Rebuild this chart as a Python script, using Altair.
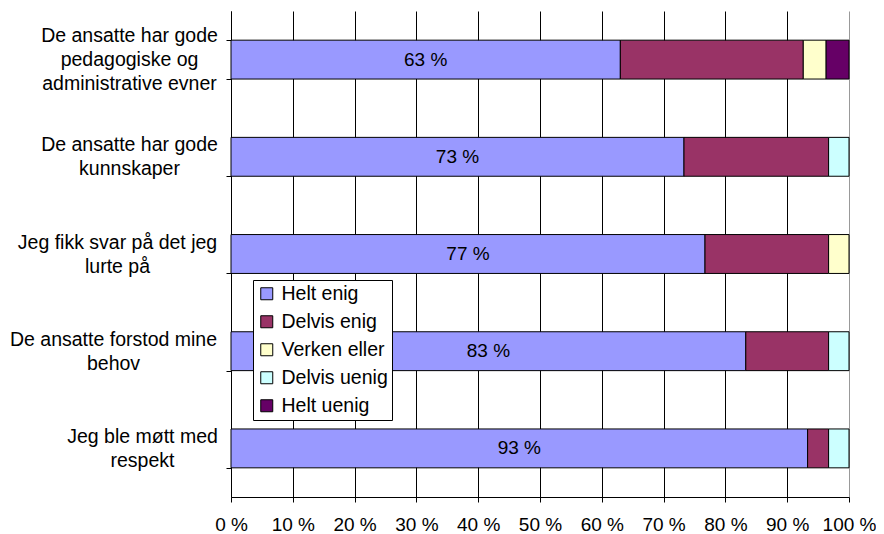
import json
import altair as alt
import pandas as pd

# ---- data ----
categories = [
    "De ansatte har gode\npedagogiske og\nadministrative evner",
    "De ansatte har gode\nkunnskaper",
    "Jeg fikk svar på det jeg\nlurte på",
    "De ansatte forstod mine\nbehov",
    "Jeg ble møtt med\nrespekt",
]
responses = ["Helt enig", "Delvis enig", "Verken eller", "Delvis uenig", "Helt uenig"]
helt_enig = [63.0, 73.3, 76.7, 83.3, 93.3]
delvis_enig = [29.6, 23.4, 20.0, 13.4, 3.4]
verken_eller = [3.7, 0.0, 3.3, 0.0, 0.0]
delvis_uenig = [0.0, 3.3, 0.0, 3.3, 3.3]
helt_uenig = [3.7, 0.0, 0.0, 0.0, 0.0]
x_ticks = list(range(0, 101, 10))

# ---- style ----
colors = ["#9999FF", "#993366", "#FFFFCC", "#CCFFFF", "#660066"]
FONT = "Liberation Sans"
FS = 19
YFS = 19.5
LINE_H = 24
label_pad = [97, 97, 109, 113, 84]  # centre the multi-line label blocks

series = [helt_enig, delvis_enig, verken_eller, delvis_uenig, helt_uenig]
rows = []
for ci, cat in enumerate(categories):
    for ri, (resp, vals) in enumerate(zip(responses, series)):
        rows.append({"category": cat, "response": resp, "order": ri, "pct": vals[ci]})
df = pd.DataFrame(rows)

pad_expr = "97"
for cat, p in reversed(list(zip(categories, label_pad))):
    pad_expr = f"datum.value === {json.dumps(cat, ensure_ascii=False)} ? {p} : ({pad_expr})"
offset_expr = f"-(length(split(datum.value, '\\n')) - 1) * {LINE_H / 2}"

y_enc = alt.Y(
    "category:N",
    sort=categories,
    title=None,
    scale=alt.Scale(paddingInner=0.6, paddingOuter=0.3),
    axis=alt.Axis(
        tickBand="extent",
        labelExpr="split(datum.label, '\\n')",
        labelAlign="center",
        labelBaseline="middle",
        labelLineHeight=LINE_H,
        labelPadding={"expr": pad_expr},
        labelOffset={"expr": offset_expr},
        labelFontSize=YFS,
        labelFont=FONT,
        labelColor="black",
        labelLimit=0,
        tickSize=5,
        tickColor="black",
        domainColor="black",
        grid=False,
    ),
)

x_axis = alt.Axis(
    values=x_ticks,
    labelExpr="datum.value + ' %'",
    grid=True,
    gridColor={"condition": {"test": "datum.value == 100", "value": "#999999"}, "value": "black"},
    gridWidth=1,
    domainColor="black",
    tickColor="black",
    tickSize=5,
    labelFontSize=FS,
    labelFont=FONT,
    labelColor="black",
    labelPadding=13,
    labelFlush=False,
    labelOverlap=False,
)

bars = (
    alt.Chart(df)
    .transform_filter("datum.pct > 0")
    .mark_bar(stroke="black", strokeWidth=1)
    .encode(
        x=alt.X("pct:Q", stack="zero", title=None,
                scale=alt.Scale(domain=[0, 100], nice=False), axis=x_axis),
        y=y_enc,
        color=alt.Color(
            "response:N",
            scale=alt.Scale(domain=responses, range=colors),
            legend=alt.Legend(
                title=None,
                orient="none",
                legendX=22,
                legendY=269,
                strokeColor="black",
                fillColor="white",
                padding=4,
                symbolType="square",
                symbolSize=144,
                symbolStrokeColor="black",
                symbolStrokeWidth=1,
                labelFontSize=YFS,
                labelFont=FONT,
                labelColor="black",
                labelOffset=5,
                rowPadding=7,
                labelLimit=0,
            ),
        ),
        order=alt.Order("order:Q", sort="ascending"),
    )
)

text = (
    alt.Chart(df)
    .transform_filter("datum.response == 'Helt enig'")
    .transform_calculate(mid="datum.pct / 2", lbl="round(datum.pct) + ' %'")
    .mark_text(font=FONT, fontSize=FS, color="black", baseline="middle", align="center")
    .encode(x=alt.X("mid:Q"), y=alt.Y("category:N", sort=categories), text="lbl:N")
)

chart = (
    alt.layer(bars, text)
    .properties(
        width=618,
        height=486,
        autosize=alt.AutoSizeParams(type="none"),
        padding={"left": 223, "top": 3, "right": 27, "bottom": 37},
        background="white",
    )
    .configure_view(stroke=None)
)

chart.save("out.html", embed_options={"renderer": "svg", "actions": False})
